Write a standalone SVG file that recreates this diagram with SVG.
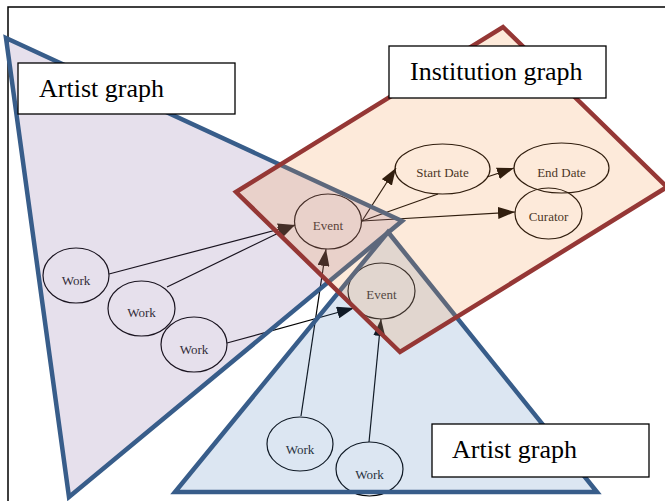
<svg xmlns="http://www.w3.org/2000/svg" width="665" height="501" viewBox="0 0 665 501">
<defs>
<style>
.node ellipse{fill:none;stroke:#000;stroke-width:1.2}
.node text{font-family:"Liberation Serif","Times New Roman",serif;font-size:13px;fill:#1a1a1a;text-anchor:middle}
.edge{stroke:#000;stroke-width:1.2;fill:none}
.arr{marker-end:url(#ah)}
.tri{stroke:#385d8a;stroke-width:4.5;stroke-linejoin:miter}
.label rect{fill:#fff;stroke:#000;stroke-width:1.3}
.label text{font-family:"Liberation Serif","Times New Roman",serif;font-size:26px;fill:#000}
</style>
<marker id="ah" markerUnits="userSpaceOnUse" markerWidth="17" markerHeight="12" refX="17" refY="6" orient="auto">
<path d="M0,0 L17,6 L0,12 z" fill="#000"/>
</marker>
</defs>
<rect x="8" y="7" width="700" height="600" fill="none" stroke="#000" stroke-width="1.5"/>
<g id="connectors">
<line class="edge arr" x1="109" y1="274" x2="295" y2="225"/>
<line class="edge arr" x1="167" y1="287" x2="295" y2="225"/>
<line class="edge arr" x1="227" y1="343" x2="354" y2="308"/>
<line class="edge arr" x1="301" y1="416" x2="326" y2="249"/>
<line class="edge arr" x1="369" y1="442" x2="381" y2="319"/>
<line class="edge arr" x1="362" y1="221" x2="396" y2="168"/>
<line class="edge" x1="362" y1="221" x2="438" y2="194"/>
<line class="edge arr" x1="362" y1="221" x2="515" y2="212"/>
<line class="edge arr" x1="487" y1="177" x2="514" y2="168"/>
</g>
<g id="event1" class="node"><ellipse cx="328" cy="221.5" rx="33.5" ry="27.5"/><text x="328" y="230">Event</text></g>
<g id="event2" class="node"><ellipse cx="381.5" cy="291" rx="33.5" ry="28"/><text x="381.5" y="299">Event</text></g>
<g id="startdate" class="node"><ellipse cx="442.5" cy="169" rx="47.5" ry="25"/><text x="442.5" y="177">Start Date</text></g>
<g id="enddate" class="node"><ellipse cx="561.5" cy="168" rx="47.5" ry="25"/><text x="561.5" y="177">End Date</text></g>
<g id="curator" class="node"><ellipse cx="548.5" cy="213.5" rx="33.5" ry="25.5"/><text x="548.5" y="221">Curator</text></g>
<g id="work1" class="node"><ellipse cx="76" cy="275.5" rx="33" ry="27.5"/><text x="76" y="284.5">Work</text></g>
<g id="work2" class="node"><ellipse cx="141.5" cy="308.5" rx="33.5" ry="27.5"/><text x="141.5" y="317">Work</text></g>
<g id="work3" class="node"><ellipse cx="194" cy="344.5" rx="33" ry="27.5"/><text x="194" y="353.5">Work</text></g>
<g id="work4" class="node"><ellipse cx="300" cy="444" rx="33" ry="27"/><text x="300" y="453.5">Work</text></g>
<g id="work5" class="node"><ellipse cx="369.5" cy="469" rx="33.5" ry="27"/><text x="369.5" y="478.5">Work</text></g>
<g id="artist-graph-1">
<polygon class="tri" points="6,38 402,221 69,497" fill="#8064a2" fill-opacity="0.2"/>
</g>
<g id="artist-graph-2">
<polygon class="tri" points="388,232 597,492 175,492" fill="#4f81bd" fill-opacity="0.2"/>
</g>
<g id="institution-graph">
<polygon points="503,27 667,187 400,352 236,192" fill="#f79646" fill-opacity="0.2" stroke="#953735" stroke-width="4.5"/>
</g>
<g id="label-artist-1" class="label"><rect x="18" y="63" width="217" height="51"/><text x="39" y="97">Artist graph</text></g>
<g id="label-institution" class="label"><rect x="389" y="46" width="217" height="52"/><text x="410" y="80">Institution graph</text></g>
<g id="label-artist-2" class="label"><rect x="432" y="424" width="217" height="53"/><text x="452" y="458">Artist graph</text></g>
</svg>
